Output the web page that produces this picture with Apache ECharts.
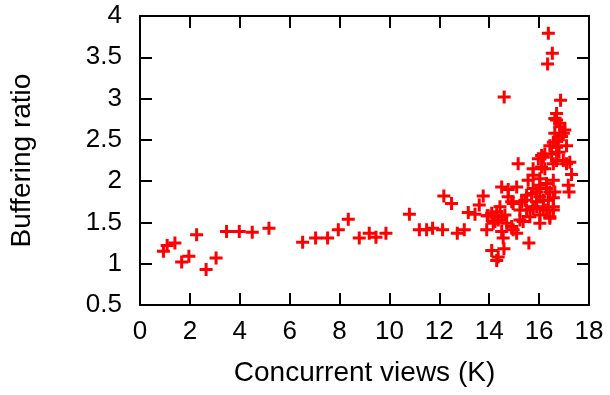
<!DOCTYPE html>
<html>
<head>
<meta charset="utf-8">
<script src="https://cdn.jsdelivr.net/npm/echarts@6/dist/echarts.min.js"></script>
<style>
  html, body { margin: 0; padding: 0; background: #fff; }
  #chart { width: 610px; height: 395px; }
</style>
</head>
<body>
<div id="chart"></div>
<script>
// concurrent views (thousands) for each sample
const viewsK = [
  0.94, 1.09, 1.40, 1.67, 1.96, 2.27, 2.65, 3.05, 3.47, 3.98, 4.50, 5.17,
  6.52, 7.04, 7.52, 7.95, 8.35, 8.79, 9.19, 9.46, 9.86, 10.80, 11.20, 11.49,
  11.73, 12.13, 12.18, 12.49, 12.72, 13.00, 13.16, 13.43, 13.60, 13.76, 13.90, 13.92,
  14.10, 14.30, 14.59, 14.36, 14.60, 15.16, 15.59, 16.37, 16.53, 16.34, 16.86, 17.30,
  17.20, 17.17,
  14.50, 14.76, 15.10, 14.76, 15.70, 15.43, 14.96, 14.43, 15.90, 14.10, 14.50, 15.23,
  15.63, 14.23, 14.70, 15.36, 14.50, 14.96, 14.56, 14.16, 14.30, 14.36, 14.90, 15.10,
  15.23, 15.50, 14.90, 15.30, 13.96, 14.63,
  15.76, 15.56, 15.90, 16.03, 16.30, 16.10, 16.17, 16.50, 16.43, 16.77, 16.97, 16.70,
  17.10, 16.43, 16.17, 16.30, 16.03, 16.43, 15.76, 15.90, 16.57, 16.03, 16.70, 16.70,
  16.83, 17.03, 16.63, 16.63, 16.83, 16.90, 16.57, 16.70, 16.23, 16.10, 17.10, 15.97,
  16.97, 16.57, 17.23, 15.76, 16.23, 16.03, 16.57, 15.76, 16.30, 16.63, 15.50, 16.03,
  16.37, 15.76, 16.17, 16.57, 16.43, 16.57, 16.80
]
// buffering ratio for each sample
const bufferRatio = [
  1.15, 1.22, 1.25, 1.02, 1.09, 1.35, 0.93, 1.07, 1.39, 1.39, 1.38, 1.43,
  1.26, 1.31, 1.31, 1.41, 1.54, 1.31, 1.37, 1.32, 1.37, 1.60, 1.41, 1.41,
  1.43, 1.41, 1.82, 1.73, 1.37, 1.41, 1.62, 1.60, 1.71, 1.82, 1.41, 1.58,
  1.16, 1.04, 1.18, 1.08, 3.02, 2.21, 1.25, 3.79, 3.55, 3.42, 2.98, 2.08,
  1.87, 1.95,
  1.93, 1.90, 1.93, 1.81, 1.85, 1.77, 1.73, 1.69, 1.69, 1.61, 1.57, 1.65,
  1.57, 1.51, 1.49, 1.51, 1.39, 1.41, 1.31, 1.49, 1.63, 1.53, 1.45, 1.37,
  1.53, 1.65, 1.75, 1.75, 1.58, 1.59,
  2.07, 2.01, 1.87, 1.95, 1.97, 2.17, 2.29, 2.33, 2.43, 2.50, 2.58, 2.25,
  2.21, 1.87, 1.77, 1.65, 1.59, 1.55, 1.67, 1.75, 1.69, 1.49, 2.82, 2.74,
  2.66, 2.62, 2.58, 2.76, 2.70, 2.54, 2.47, 2.41, 2.33, 2.31, 2.43, 2.27,
  2.25, 2.21, 2.23, 2.15, 2.15, 2.03, 2.01, 1.91, 1.91, 1.87, 1.83, 1.81,
  1.77, 1.69, 1.67, 1.65, 1.57, 1.80, 2.35
]
const xTicks = { min: 0, max: 18, step: 2 }
const yTicks = { min: 0.5, max: 4, step: 0.5 }

const font = '"Liberation Sans", Arial, Helvetica, sans-serif'
const points = viewsK.map((v, i) => [v, bufferRatio[i]])

const frameLine = { show: true, onZero: false, lineStyle: { color: '#000', width: 2 } }
const innerTick = { show: true, inside: true, length: 12, lineStyle: { color: '#000', width: 2 } }

const chart = echarts.init(document.getElementById('chart'))
chart.setOption({
  animation: false,
  grid: { left: 140, right: 21, top: 16, bottom: 90 },
  xAxis: [
    {
      type: 'value',
      position: 'bottom',
      min: xTicks.min,
      max: xTicks.max,
      interval: xTicks.step,
      name: 'Concurrent views (K)',
      nameLocation: 'middle',
      nameGap: 54,
      nameTextStyle: { fontFamily: font, fontSize: 28, color: '#000' },
      axisLine: frameLine,
      axisTick: innerTick,
      axisLabel: { fontFamily: font, fontSize: 26, color: '#000', margin: 14 },
      splitLine: { show: false }
    },
    {
      type: 'value',
      position: 'top',
      min: xTicks.min,
      max: xTicks.max,
      interval: xTicks.step,
      axisLine: frameLine,
      axisTick: innerTick,
      axisLabel: { show: false },
      splitLine: { show: false }
    }
  ],
  yAxis: [
    {
      type: 'value',
      position: 'left',
      min: yTicks.min,
      max: yTicks.max,
      interval: yTicks.step,
      name: 'Buffering ratio',
      nameLocation: 'middle',
      nameGap: 104,
      nameTextStyle: { fontFamily: font, fontSize: 28, color: '#000' },
      axisLine: frameLine,
      axisTick: innerTick,
      axisLabel: { fontFamily: font, fontSize: 26, color: '#000', margin: 18 },
      splitLine: { show: false }
    },
    {
      type: 'value',
      position: 'right',
      min: yTicks.min,
      max: yTicks.max,
      interval: yTicks.step,
      axisLine: frameLine,
      axisTick: innerTick,
      axisLabel: { show: false },
      splitLine: { show: false }
    }
  ],
  series: [
    {
      type: 'scatter',
      data: points,
      symbol: 'path://M5,0H8V5H13V8H8V13H5V8H0V5H5Z',
      symbolSize: 13,
      itemStyle: { color: '#ff0000', opacity: 1 }
    }
  ]
})
</script>
</body>
</html>
